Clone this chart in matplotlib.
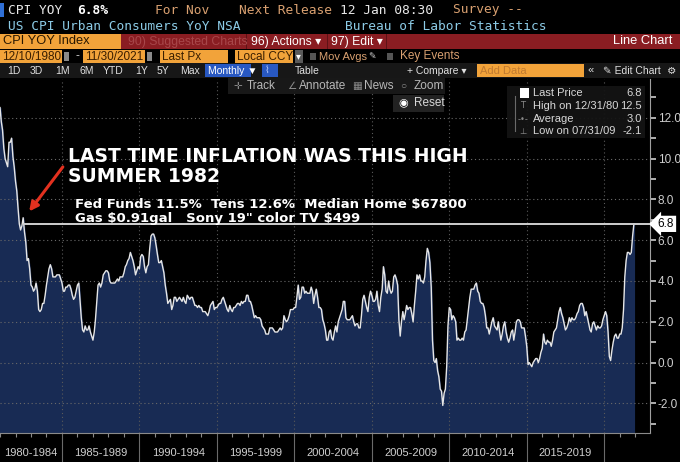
import matplotlib.pyplot as plt
import matplotlib.patches as mpatches
import matplotlib.dates as mdates
import pandas as pd
from datetime import datetime

plt.rcParams["text.parse_math"] = False

# US CPI urban consumers YoY NSA (%), monthly, Dec 1980 .. Nov 2021
cpi_yoy = [
    12.5,
    11.8, 11.4, 10.5, 10.0, 9.8, 9.6, 10.8, 10.8, 11.0, 10.1, 9.6, 8.9,   # 1981
    8.4, 7.6, 6.8, 6.5, 6.7, 7.1, 6.4, 5.9, 5.0, 5.1, 4.6, 3.8,          # 1982
    3.7, 3.5, 3.6, 3.9, 3.5, 2.6, 2.5, 2.6, 2.9, 2.9, 3.3, 3.8,          # 1983
    4.2, 4.6, 4.8, 4.6, 4.2, 4.2, 4.2, 4.3, 4.3, 4.3, 4.1, 3.9,          # 1984
    3.5, 3.5, 3.7, 3.7, 3.8, 3.8, 3.6, 3.3, 3.1, 3.2, 3.5, 3.8,          # 1985
    3.9, 3.1, 2.2, 1.6, 1.5, 1.8, 1.6, 1.6, 1.8, 1.5, 1.3, 1.1,          # 1986
    1.5, 2.1, 3.0, 3.8, 3.9, 3.7, 3.9, 4.3, 4.4, 4.5, 4.5, 4.4,          # 1987
    4.0, 3.9, 3.9, 3.9, 3.9, 4.0, 4.1, 4.0, 4.2, 4.2, 4.2, 4.4,          # 1988
    4.7, 4.8, 5.0, 5.1, 5.4, 5.2, 5.0, 4.7, 4.3, 4.5, 4.7, 4.6,          # 1989
    5.2, 5.3, 5.2, 4.7, 4.4, 4.7, 4.8, 5.6, 6.2, 6.3, 6.3, 6.1,          # 1990
    5.7, 5.3, 4.9, 4.9, 5.0, 4.7, 4.4, 3.8, 3.4, 2.9, 3.0, 3.1,          # 1991
    2.6, 2.8, 3.2, 3.2, 3.0, 3.1, 3.2, 3.1, 3.0, 3.2, 3.0, 2.9,          # 1992
    3.3, 3.2, 3.1, 3.2, 3.2, 3.0, 2.8, 2.8, 2.7, 2.8, 2.7, 2.7,          # 1993
    2.5, 2.5, 2.5, 2.4, 2.3, 2.5, 2.8, 2.9, 3.0, 2.6, 2.7, 2.7,          # 1994
    2.8, 2.9, 2.9, 3.1, 3.2, 3.0, 2.8, 2.6, 2.5, 2.8, 2.6, 2.5,          # 1995
    2.7, 2.7, 2.8, 2.9, 2.9, 2.8, 3.0, 2.9, 3.0, 3.0, 3.3, 3.3,          # 1996
    3.0, 3.0, 2.8, 2.5, 2.2, 2.3, 2.2, 2.2, 2.2, 2.1, 1.8, 1.7,          # 1997
    1.6, 1.4, 1.4, 1.4, 1.7, 1.7, 1.7, 1.6, 1.5, 1.5, 1.5, 1.6,          # 1998
    1.7, 1.6, 1.7, 2.3, 2.1, 2.0, 2.1, 2.3, 2.6, 2.6, 2.6, 2.7,          # 1999
    2.7, 3.2, 3.8, 3.1, 3.2, 3.7, 3.7, 3.4, 3.5, 3.4, 3.4, 3.4,          # 2000
    3.7, 3.5, 2.9, 3.3, 3.6, 3.2, 2.7, 2.7, 2.6, 2.1, 1.9, 1.6,          # 2001
    1.1, 1.1, 1.5, 1.6, 1.2, 1.1, 1.5, 1.8, 1.5, 2.0, 2.2, 2.4,          # 2002
    2.6, 3.0, 3.0, 2.2, 2.1, 2.1, 2.1, 2.2, 2.3, 2.0, 1.8, 1.9,          # 2003
    1.9, 1.7, 1.7, 2.3, 3.1, 3.3, 3.0, 2.7, 2.5, 3.2, 3.5, 3.3,          # 2004
    3.0, 3.0, 3.1, 3.5, 2.8, 2.5, 3.2, 3.6, 4.7, 4.3, 3.5, 3.4,          # 2005
    4.0, 3.6, 3.4, 3.5, 4.2, 4.3, 4.1, 3.8, 2.1, 1.3, 2.0, 2.5,          # 2006
    2.1, 2.4, 2.8, 2.6, 2.7, 2.7, 2.4, 2.0, 2.8, 3.5, 4.3, 4.1,          # 2007
    4.3, 4.0, 4.0, 3.9, 4.2, 5.0, 5.6, 5.4, 4.9, 3.7, 1.1, 0.1,          # 2008
    0.0, 0.2, -0.4, -0.7, -1.3, -1.4, -2.1, -1.5, -1.3, -0.2, 1.8, 2.7,  # 2009
    2.6, 2.1, 2.3, 2.2, 2.0, 1.1, 1.2, 1.1, 1.1, 1.2, 1.1, 1.5,          # 2010
    1.6, 2.1, 2.7, 3.2, 3.6, 3.6, 3.6, 3.8, 3.9, 3.5, 3.4, 3.0,          # 2011
    2.9, 2.9, 2.7, 2.3, 1.7, 1.7, 1.4, 1.7, 2.0, 2.2, 1.8, 1.7,          # 2012
    1.6, 2.0, 1.5, 1.1, 1.4, 1.8, 2.0, 1.5, 1.2, 1.0, 1.2, 1.5,          # 2013
    1.6, 1.1, 1.5, 2.0, 2.1, 2.1, 2.0, 1.7, 1.7, 1.7, 1.3, 0.8,          # 2014
    -0.1, 0.0, -0.1, -0.2, 0.0, 0.1, 0.2, 0.2, 0.0, 0.2, 0.5, 0.7,       # 2015
    1.4, 1.0, 0.9, 1.1, 1.0, 1.0, 0.8, 1.1, 1.5, 1.6, 1.7, 2.1,          # 2016
    2.5, 2.7, 2.4, 2.2, 1.9, 1.6, 1.7, 1.9, 2.2, 2.0, 2.2, 2.1,          # 2017
    2.1, 2.2, 2.4, 2.5, 2.8, 2.9, 2.9, 2.7, 2.3, 2.5, 2.2, 1.9,          # 2018
    1.6, 1.5, 1.9, 2.0, 1.8, 1.6, 1.8, 1.7, 1.7, 1.8, 2.1, 2.3,          # 2019
    2.5, 2.3, 1.5, 0.3, 0.1, 0.6, 1.0, 1.3, 1.4, 1.2, 1.2, 1.4,          # 2020
    1.4, 1.7, 2.6, 4.2, 5.0, 5.4, 5.4, 5.3, 5.4, 6.2, 6.8,               # 2021
]
first_month = "1980-12-31"
last_value = 6.8
period_starts = [1980, 1985, 1990, 1995, 2000, 2005, 2010, 2015]
period_labels = ["1980-1984", "1985-1989", "1990-1994", "1995-1999",
                 "2000-2004", "2005-2009", "2010-2014", "2015-2019"]
separator_years = [1985, 1990, 1995, 2000, 2005, 2010, 2015, 2020]
y_major = [-2, 0, 2, 4, 6, 8, 10, 12]
y_minor = [-3, -1, 1, 3, 5, 7, 9, 11, 13]
legend_labels = ["Last Price", "High on 12/31/80", "Average", "Low on 07/31/09"]
legend_values = ["6.8", "12.5", "3.0", "-2.1"]

dates = pd.date_range(first_month, periods=len(cpi_yoy), freq="ME")

W, H = 680, 462
mono = "DejaVu Sans Mono"
sans = ["Liberation Sans", "DejaVu Sans"]
tan = "#d9a070"
orange = "#f2a33a"

fig = plt.figure(figsize=(W / 100, H / 100), dpi=100, facecolor="black")

# ---- main chart ----
ax = fig.add_axes([0, 29 / H, 650 / W, (433 - 79) / H], facecolor="black")
x_left, x_right = datetime(1980, 12, 31), datetime(2022, 12, 15)
y_bottom, y_top = -3.45, 13.9
ax.set_xlim(x_left, x_right)
ax.set_ylim(y_bottom, y_top)

ax.fill_between(dates, cpi_yoy, y_bottom, color="#182b54", zorder=1)
ax.plot(dates, cpi_yoy, color="#e6e6e6", lw=1.0, zorder=3)
ax.hlines(last_value, datetime(1982, 6, 20), x_right, color="#cfcfcf", lw=1.4, zorder=4)

ax.yaxis.tick_right()
ax.set_yticks(y_major)
ax.set_yticklabels([f"{v:.1f}" for v in y_major], family=sans, fontsize=8.5)
ax.set_yticks(y_minor, minor=True)
ax.tick_params(axis="y", which="both", colors="#bdbdbd", length=4, width=1.3,
               pad=1.5, labelcolor="#cfcfcf")

ax.set_xticks([datetime(y, 1, 1) for y in separator_years])
ax.set_xticks([datetime(y, 1, 1) for y in range(1981, 2023)], minor=True)
ax.set_xticklabels([])
ax.tick_params(axis="x", which="major", length=21, width=0.8, colors="#6a6a6a")
ax.tick_params(axis="x", which="minor", length=3, width=0.8, colors="#8a8a8a")

ax.grid(axis="y", which="major", color="#6a6a6a", lw=0.8, linestyle=(0, (1, 2.5)))
ax.grid(axis="x", which="major", color="#5a5a5a", lw=0.8, linestyle=(0, (1, 2.5)))
for side in ["left", "top"]:
    ax.spines[side].set_visible(False)
ax.spines["right"].set_color("#a0a0a0")
ax.spines["bottom"].set_color("#8a8a8a")

# period labels centred in the visible part of each 5-year span
xl = mdates.date2num(x_left)
for start, label in zip(period_starts, period_labels):
    a = max(mdates.date2num(datetime(start, 1, 1)), xl)
    b = mdates.date2num(datetime(start + 5, 1, 1))
    ax.text((a + b) / 2, -0.056, label, transform=ax.get_xaxis_transform(),
            ha="center", va="center", color="#cfcfcf", fontsize=8, family=sans)

ax.annotate(f"{last_value}", xy=(1.0, last_value), xycoords=("axes fraction", "data"),
            xytext=(5.5, 0), textcoords="offset points", ha="left", va="center",
            fontsize=8.5, family=sans, color="black", annotation_clip=False,
            bbox=dict(boxstyle="larrow,pad=0.18", fc="white", ec="none"))

ax.annotate("", xy=(datetime(1982, 10, 10), 7.3), xytext=(datetime(1985, 3, 1), 9.7),
            arrowprops=dict(arrowstyle="-|>", color="#e3311f", lw=2.2, mutation_scale=13))

# ---- terminal chrome overlay (pixel coordinates) ----
ov = fig.add_axes([0, 0, 1, 1])
ov.set_xlim(0, W)
ov.set_ylim(H, 0)
ov.axis("off")
ov.patch.set_alpha(0)


def box(x0, y0, x1, y1, color, alpha=1.0):
    ov.add_patch(mpatches.Rectangle((x0, y0), x1 - x0, y1 - y0, fc=color, ec="none", alpha=alpha))


def txt(x, y, s, color="white", size=9, family=sans, **kw):
    ov.text(x, y, s, color=color, fontsize=size, family=family, va="center", **kw)


# row 1
box(0, 3, 4, 17, "#2f6fd6")
txt(8, 10, "CPI YOY", "#e8e8e8", 9.3, mono)
txt(77, 10, "6.8%", "white", 9.3, mono, weight="bold")
txt(155, 10, "For Nov", tan, 9.3, mono)
txt(239, 10, "Next Release", tan, 9.3, mono)
txt(340, 10, "12 Jan 08:30", "#e8e8e8", 9.3, mono)
txt(453, 10, "Survey --", tan, 9.3, mono)
# row 2
txt(8, 26, "US CPI Urban Consumers YoY NSA", "#8ccbe6", 9.3, mono)
txt(345, 26, "Bureau of Labor Statistics", "#8ccbe6", 9.3, mono)
# row 3
box(0, 34, W, 49, "#8a1d22")
box(0, 34, 121, 49, orange)
txt(3, 41.5, "CPI YOY Index", "#2a1800", 9.3)
txt(128, 41.5, "90) Suggested Charts", "#a8474a", 8.8)
box(246, 34, 247, 49, "#5e1216")
txt(251, 41.5, "96) Actions ▾", "white", 8.8)
box(327, 34, 328, 49, "#5e1216")
txt(331, 41.5, "97) Edit ▾", "white", 8.8)
box(386, 34, 387, 49, "#5e1216")
txt(672, 41.5, "Line Chart", "white", 9.3, ha="right")
# row 4
for x0, x1, s in [(0, 62, "12/10/1980"), (83, 145, "11/30/2021"), (160, 228, "Last Px"), (235, 293, "Local CCY")]:
    box(x0, 50, x1, 63, orange)
    txt(x0 + 2, 56.5, s, "#3a1e00", 8.5)
for x0 in [63, 146]:
    box(x0 + 1, 52, x0 + 6, 61, "#8a8a8a")
txt(75, 56.5, "-", "#d0d0d0", 8.5)
box(295, 50, 303, 63, "#5a5a5a")
txt(296, 56.5, "▾", "white", 7, "DejaVu Sans")
box(310, 53, 316, 60, "#555555")
txt(319, 56.5, "Mov Avgs", tan, 8)
txt(368, 56.5, "✎", "#d0d0d0", 6.5, "DejaVu Sans")
box(387, 53, 393, 60, "#555555")
txt(400, 56.5, "Key Events", tan, 8.5)
# row 5
box(0, 63, W, 78, "#171717")
for x, s in zip([7, 30, 55, 79, 103, 135, 157, 180], ["1D", "3D", "1M", "6M", "YTD", "1Y", "5Y", "Max"]):
    txt(x, 70.5, s, "#e0e0e0", 7.5)
box(205, 64, 251, 77, "#2858c2")
txt(208, 70.5, "Monthly ▼", "white", 7.5)
box(262, 64, 278, 77, "#2858c2")
txt(265, 70.5, "⌇", "#bcd0ff", 7, "DejaVu Sans")
txt(295, 70.5, "Table", "#e0e0e0", 7.5)
txt(407, 70.5, "+ Compare ▾", "#e0e0e0", 7.5)
box(477, 64, 584, 77, orange)
txt(480, 70.5, "Add Data", "#c07a30", 8)
txt(588, 70.5, "«", "#e0e0e0", 8)
txt(603, 70.5, "✎ Edit Chart", "#e0e0e0", 7.5)
txt(667, 70.5, "⚙", "#e0e0e0", 7.5, "DejaVu Sans")

# track / zoom toolbar floating on the chart
box(228, 78, 445, 94, "#1b1b1b", 0.92)
txt(233, 86, "✛", "#8a8a8a", 7.5)
txt(247, 86, "Track", "#b8b8b8", 8.5)
txt(287, 86, "∠", "#8a8a8a", 7.5)
txt(299, 86, "Annotate", "#b8b8b8", 8.5)
txt(352, 86, "▦", "#8a8a8a", 7.5)
txt(364, 86, "News", "#b8b8b8", 8.5)
txt(400, 86, "○", "#8a8a8a", 7.5)
txt(414, 86, "Zoom", "#b8b8b8", 8.5)
box(393, 95, 444, 112, "#252525", 0.95)
txt(398, 103.5, "◉", "white", 8)
txt(414, 103.5, "Reset", "#d8d8d8", 8.5)

# legend panel
box(507, 86, 645, 138, "#141414", 0.95)
row_y = [93, 106, 119, 131]
ov.plot([515, 515], [96, 131], color="#6a6a6a", lw=0.8)
box(520, 88, 529, 98, "white")
for y, lab, val in zip(row_y, legend_labels, legend_values):
    txt(533, y, lab, "#d8d8d8", 8)
    txt(642, y, val, "#d8d8d8", 8, ha="right")
for y, g in zip(row_y[1:], ["T", "-•-", "⊥"]):
    txt(523, y, g, "#8a8a8a", 6, "DejaVu Sans", ha="center")

# annotation text
ov.text(68, 162, "LAST TIME INFLATION WAS THIS HIGH", color="white", fontsize=13.5,
        weight="bold", family="DejaVu Sans", va="baseline")
ov.text(68, 182, "SUMMER 1982", color="white", fontsize=13.5,
        weight="bold", family="DejaVu Sans", va="baseline")
ov.text(75, 208, "Fed Funds 11.5%  Tens 12.6%  Median Home $67800", color="white",
        fontsize=9.5, weight="bold", family="DejaVu Sans", va="baseline")
ov.text(75, 222, "Gas $0.91gal   Sony 19\" color TV $499", color="white",
        fontsize=9.5, weight="bold", family="DejaVu Sans", va="baseline")

fig.savefig("out.png", dpi=100, facecolor="black")
